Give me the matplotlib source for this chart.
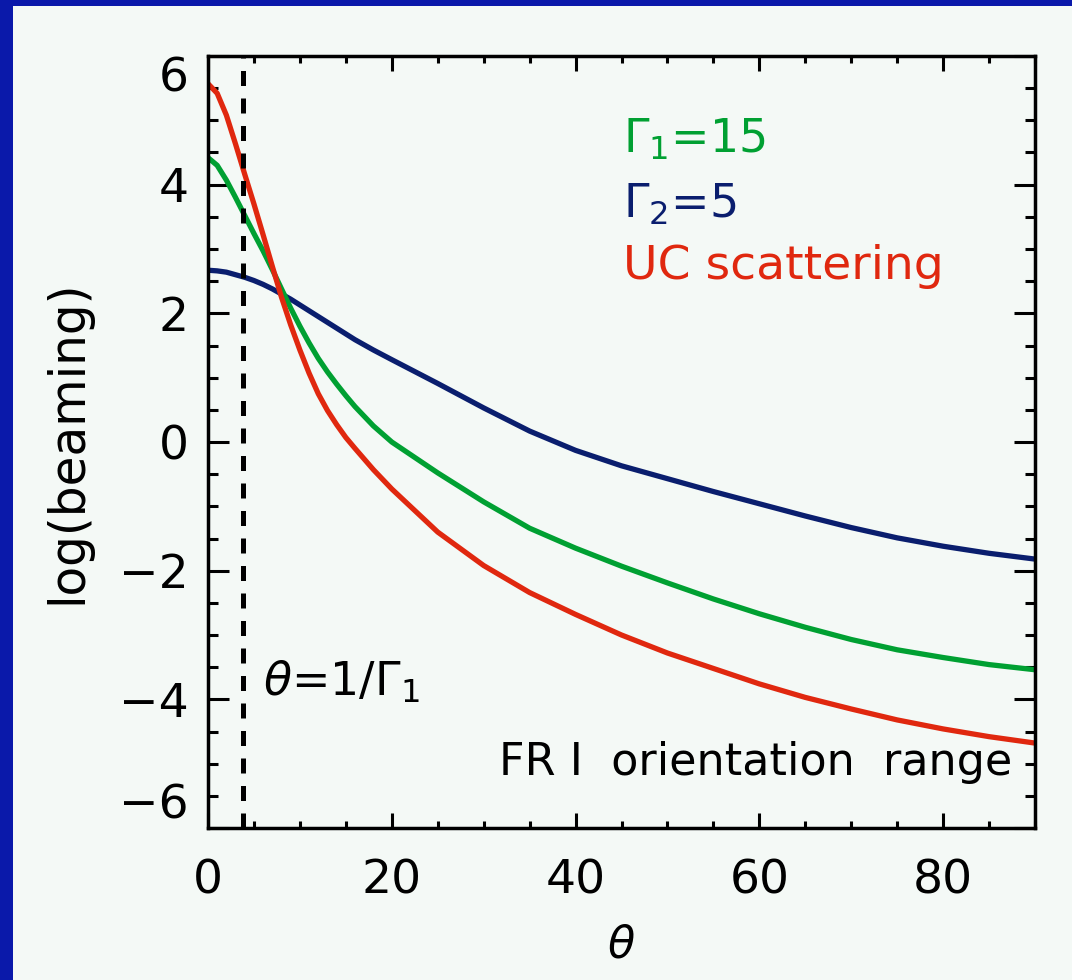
import numpy as np
import matplotlib
matplotlib.use("Agg")
import matplotlib.pyplot as plt
from matplotlib.patches import Rectangle
from matplotlib.ticker import MultipleLocator

# theta in degrees
theta = [0, 1, 2, 3, 4, 5, 6, 7, 8, 9, 10, 11, 12, 13, 14, 15, 16, 18, 20,
         25, 30, 35, 40, 45, 50, 55, 60, 65, 70, 75, 80, 85, 90]

log_gamma1 = [4.42, 4.30, 4.07, 3.80, 3.52, 3.24, 2.97, 2.68, 2.38, 2.08, 1.80,
              1.54, 1.30, 1.09, 0.90, 0.72, 0.55, 0.25, 0.00,
              -0.48, -0.93, -1.34, -1.65, -1.93, -2.19, -2.44, -2.67, -2.88,
              -3.07, -3.23, -3.35, -3.46, -3.54]

log_gamma2 = [2.67, 2.66, 2.64, 2.60, 2.56, 2.51, 2.45, 2.38, 2.30, 2.22, 2.13,
              2.04, 1.95, 1.86, 1.77, 1.68, 1.59, 1.43, 1.28,
              0.91, 0.53, 0.17, -0.13, -0.37, -0.57, -0.77, -0.96, -1.15,
              -1.33, -1.49, -1.62, -1.73, -1.82]

log_uc = [5.57, 5.42, 5.08, 4.63, 4.16, 3.70, 3.22, 2.73, 2.25, 1.82, 1.43,
          1.07, 0.75, 0.49, 0.27, 0.07, -0.10, -0.43, -0.73,
          -1.40, -1.92, -2.34, -2.68, -3.00, -3.28, -3.52, -3.76, -3.97,
          -4.15, -4.32, -4.46, -4.58, -4.68]

theta_crit = 180.0 / np.pi / 15.0   # 1/Gamma_1 in degrees

GREEN = "#00a032"
NAVY = "#0a1e6e"
RED = "#e0280f"
BG = "#f4f9f6"

fig = plt.figure(figsize=(10.72, 9.8), dpi=100)
fig.patch.set_facecolor("#0a19aa")
fig.patches.append(Rectangle((13 / 1072, 0), 1 - 13 / 1072, 1 - 6 / 980,
                             transform=fig.transFigure, facecolor=BG,
                             edgecolor="none", zorder=-5))

ax = fig.add_axes([208 / 1072, 1 - 828 / 980, (1035 - 208) / 1072, (828 - 56) / 980])
ax.set_facecolor(BG)

lw = 3.8
ax.plot(theta, log_gamma2, color=NAVY, lw=lw, solid_joinstyle="round")
ax.plot(theta, log_gamma1, color=GREEN, lw=lw, solid_joinstyle="round")
ax.plot(theta, log_uc, color=RED, lw=lw, solid_joinstyle="round")
ax.axvline(theta_crit, color="black", lw=3.6, ls=(0, (3, 2.5)))

ax.set_xlim(0, 90)
ax.set_ylim(-6, 6)
ax.xaxis.set_major_locator(MultipleLocator(20))
ax.xaxis.set_minor_locator(MultipleLocator(5))
ax.yaxis.set_minor_locator(MultipleLocator(0.5))

for s in ax.spines.values():
    s.set_linewidth(2.5)
ax.tick_params(axis="both", which="both", direction="in", top=True, right=True,
               width=2.2, labelsize=34, colors="black")
ax.tick_params(axis="y", which="major", length=15, pad=14)
ax.tick_params(axis="y", which="minor", length=7)
ax.tick_params(axis="x", which="major", length=11, pad=22)
ax.tick_params(axis="x", which="minor", length=5)
ax.set_yticks([-6, -4, -2, 0, 2, 4, 6])
ax.set_yticklabels(["\u22126", "\u22124", "\u22122", "0", "2", "4", "6"])
ylabs = ax.get_yticklabels()
ylabs[0].set_va("bottom")
ylabs[-1].set_va("top")

ax.set_xlabel(r"$\theta$", fontsize=32, labelpad=14)
ax.set_ylabel("log(beaming)", fontsize=35, labelpad=20)

ax.text(0.502, 0.891, r"$\Gamma_1$=15", transform=ax.transAxes, color=GREEN,
        fontsize=33, va="center", ha="left")
ax.text(0.502, 0.807, r"$\Gamma_2$=5", transform=ax.transAxes, color=NAVY,
        fontsize=33, va="center", ha="left")
ax.text(0.502, 0.727, "UC scattering", transform=ax.transAxes, color=RED,
        fontsize=34, va="center", ha="left")

ax.text(0.066, 0.189, r"$\theta$=1/$\Gamma_1$", transform=ax.transAxes,
        fontsize=33, va="center", ha="left")
ax.text(0.972, 0.085, "FR I  orientation  range", transform=ax.transAxes,
        fontsize=32, va="center", ha="right")

fig.savefig("out.png", dpi=100, facecolor=fig.get_facecolor())
